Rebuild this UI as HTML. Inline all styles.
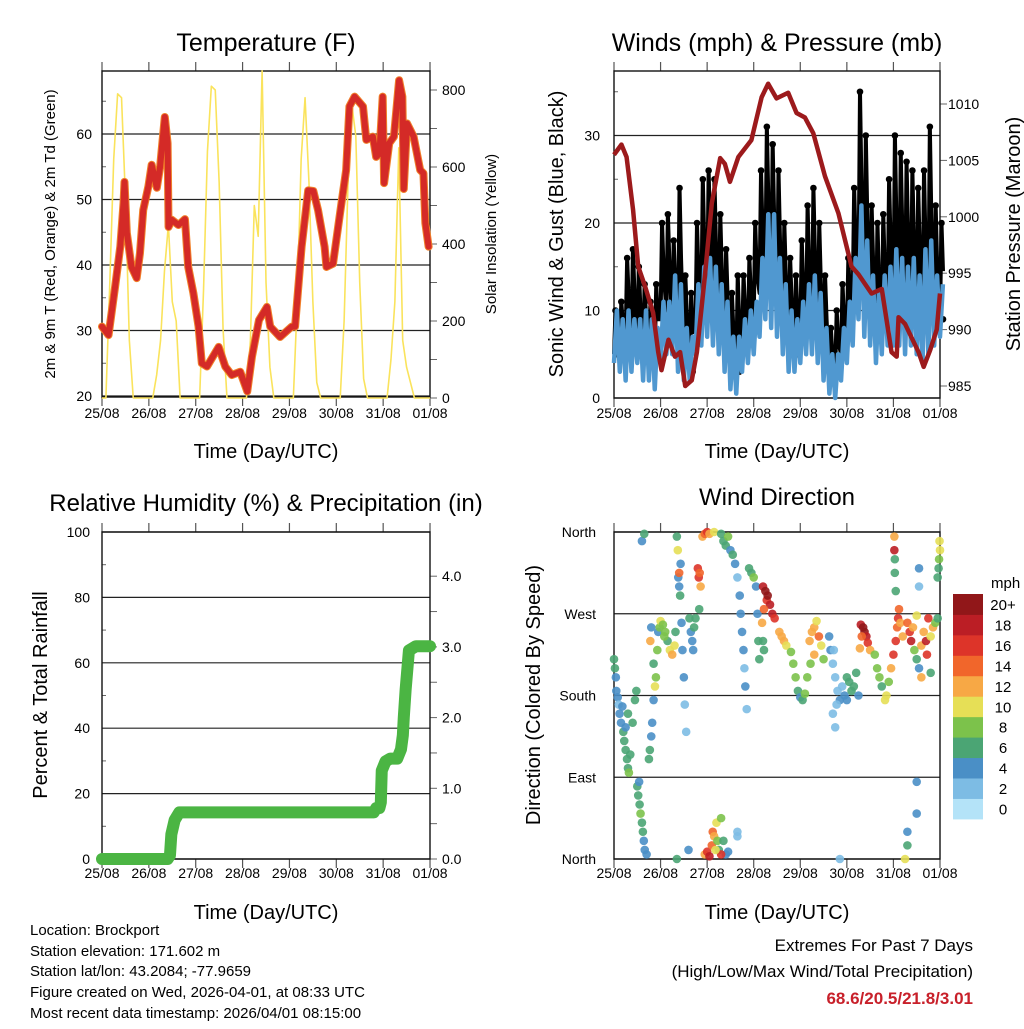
<!DOCTYPE html>
<html><head><meta charset="utf-8"><style>
body{margin:0;background:#fff}
svg text{font-family:"Liberation Sans",sans-serif;fill:#000}
</style></head><body>
<svg id="s" width="1024" height="1024" viewBox="0 0 1024 1024" xmlns="http://www.w3.org/2000/svg">
<g id="static">
<text x="266" y="51" font-size="25" text-anchor="middle">Temperature (F)</text>
<text x="777" y="51" font-size="25" text-anchor="middle">Winds (mph) &amp; Pressure (mb)</text>
<text x="266" y="511" font-size="24" text-anchor="middle">Relative Humidity (%) &amp; Precipitation (in)</text>
<text x="777" y="505" font-size="24" text-anchor="middle">Wind Direction</text>
<text x="266" y="458" font-size="20" text-anchor="middle">Time (Day/UTC)</text>
<text x="777" y="458" font-size="20" text-anchor="middle">Time (Day/UTC)</text>
<text x="266" y="919" font-size="20" text-anchor="middle">Time (Day/UTC)</text>
<text x="777" y="919" font-size="20" text-anchor="middle">Time (Day/UTC)</text>
<text transform="translate(55,234) rotate(-90)" font-size="15" text-anchor="middle">2m &amp; 9m T (Red, Orange) &amp; 2m Td (Green)</text>
<text transform="translate(496,234) rotate(-90)" font-size="15" text-anchor="middle">Solar Insolation (Yellow)</text>
<text transform="translate(563,234) rotate(-90)" font-size="20" text-anchor="middle">Sonic Wind &amp; Gust (Blue, Black)</text>
<text transform="translate(1020,234) rotate(-90)" font-size="20" text-anchor="middle">Station Pressure (Maroon)</text>
<text transform="translate(47,695) rotate(-90)" font-size="20" text-anchor="middle">Percent &amp; Total Rainfall</text>
<text transform="translate(540,695) rotate(-90)" font-size="20" text-anchor="middle">Direction (Colored By Speed)</text>
<text x="991" y="588" font-size="15">mph</text>
<g font-size="15">
<text x="30" y="935">Location: Brockport</text>
<text x="30" y="956">Station elevation: 171.602 m</text>
<text x="30" y="976">Station lat/lon: 43.2084; -77.9659</text>
<text x="30" y="997">Figure created on Wed, 2026-04-01, at 08:33 UTC</text>
<text x="30" y="1018">Most recent data timestamp: 2026/04/01 08:15:00</text>
</g>
<g font-size="17" text-anchor="end">
<text x="973" y="951">Extremes For Past 7 Days</text>
<text x="973" y="977">(High/Low/Max Wind/Total Precipitation)</text>
<text x="973" y="1004" font-weight="bold" style="fill:#c8202a">68.6/20.5/21.8/3.01</text>
</g>
</g>
</svg>
<script>
// ---------- data ----------
const dayLabels=["25/08","26/08","27/08","28/08","29/08","30/08","31/08","01/08"];
const tempDay=[0,0.14,0.28,0.39,0.46,0.48,0.53,0.63,0.74,0.81,0.88,0.99,1.06,1.17,1.24,1.34,1.40,1.42,1.49,1.63,1.77,1.84,1.95,2.06,2.13,2.24,2.49,2.63,2.77,2.95,3.10,3.20,3.35,3.52,3.59,3.80,4.05,4.12,4.26,4.40,4.51,4.61,4.75,4.79,4.93,5.07,5.21,5.28,5.39,5.57,5.64,5.78,5.85,5.92,5.99,6.02,6.13,6.23,6.34,6.41,6.44,6.51,6.65,6.79,6.86,6.90,6.97];
const tempVal=[30.6,29.3,36.7,42.8,49.5,52.7,44.9,39.7,38.0,41.8,48.4,52,55.3,51.8,55,62.6,58.6,45.8,46.9,46.1,47,39.7,35.7,30.6,25,24.5,27.5,24.5,23.2,23.7,20.7,26,31.6,33.6,30.6,29,30.6,30.6,42.8,51.4,51.3,48.4,42.8,39.7,40.2,47.4,54.5,64.2,65.7,64.2,59.1,59.6,56.5,57,65.7,52.5,58.6,59.6,68.2,65.7,51.6,61.6,59.6,54.5,54,46.4,42.8];
const solarVal=[0,0,300,620,790,780,520,150,0,0,0,0, 0,0,60,150,330,450,250,200,0,0,0,0, 0,0,280,640,810,800,560,180,0,0,0,0, 0,0,150,500,420,850,300,80,0,0,0,0, 0,0,250,620,780,560,250,40,0,0,0,0, 0,0,200,560,760,680,300,50,0,0,0,0, 0,0,100,250,650,150,80,40,0,0,0,0, 0];
const presDay=[0,0.16,0.27,0.41,0.52,0.67,0.84,0.95,1.02,1.17,1.31,1.42,1.53,1.67,1.78,1.95,2.10,2.28,2.38,2.49,2.67,2.95,3.17,3.31,3.49,3.74,3.92,4.10,4.28,4.53,4.82,5.10,5.25,5.53,5.75,5.96,6.07,6.11,6.25,6.54,6.65,6.79,6.93,7.0];
const presVal=[1005.5,1006.4,1005.3,1000.6,995.6,993.8,991.5,988,986.4,989.1,987.6,988,985,985.5,988,994.7,1001.2,1005.2,1004.7,1003.1,1005.3,1006.8,1010.6,1011.8,1010.5,1011,1009.2,1008.8,1007.4,1003.6,1000.3,995.6,994.9,993.2,993.6,988,987.6,991.1,990.5,988,986.7,988.2,990,993.2];
const gustHi=[10,11,16,17,15,13,11,13, 20,21,18,24,14,12,20,25, 26,25,21,17,12,14,14,16, 20,26,31,29,26,20,16,14, 18,22,24,20,14,8,10,13, 16,24,35,30,22,20,21,25, 30,28,27,26,24,26,31,22,20];
const gustLo=[5,6,7,7,6,5,4,5, 9,10,8,8,5,3,8,10, 11,10,8,6,3,3,6,7, 9,12,14,12,10,8,6,5, 7,8,9,7,4,2,3,5, 7,11,13,11,9,7,8,10, 10,11,10,10,10,9,10,8,9];
const windHi=[10,9,10,9,9,10,9,8, 11,11,14,13,8,7,13,15, 16,15,13,11,7,7,9,10, 11,16,21,21,16,13,10,9, 11,13,14,12,8,5,5,8, 11,16,22,18,14,12,14,15, 17,16,15,16,14,17,18,14,13];
const windLo=[4,3,2,3,4,2,2,1, 4,5,5,3,2,2,5,6, 7,6,5,3,1,0.5,3,4, 5,7,9,8,7,5,3,3, 4,5,5,4,2,0.5,0,2, 4,6,9,7,6,4,5,6, 6,6,5,6,5,4,5,6,7];
const precipDay=[0,1.40,1.45,1.48,1.55,1.65,5.80,5.85,5.92,5.95,5.97,6.05,6.15,6.30,6.38,6.42,6.44,6.48,6.55,6.70,7.0];
const precipVal=[0,0,0.05,0.35,0.55,0.66,0.66,0.72,0.72,0.80,1.25,1.38,1.42,1.42,1.55,1.75,2.0,2.4,2.95,3.01,3.01];
const dirDay=[0,0.02,0.04,0.05,0.08,0.1,0.12,0.15,0.18,0.2,0.22,0.25,0.28,0.3,0.32,0.35,0.4,0.45,0.48,0.3,0.25,
0.5,0.52,0.55,0.57,0.6,0.62,0.64,0.66,0.7,0.54,
0.75,0.77,0.8,0.82,0.85,0.88,0.9,0.93,0.95,0.8,0.78,0.85,
0.98,1.0,1.05,1.1,1.15,1.2,1.25,1.3,1.32,1.08,
1.35,1.37,1.38,1.4,1.42,1.45,1.47,1.5,1.52,1.55,1.4,1.43,
1.8,1.82,1.84,1.86,1.83,1.62,1.65,1.68,1.7,1.72,1.75,
1.9,1.95,2.0,2.05,2.15,
1.95,2.0,2.05,2.1,2.12,2.15,2.2,2.22,2.25,2.3,2.35,2.4,2.45,2.3,2.18,
2.3,2.35,2.4,2.45,2.5,2.55,2.6,2.65,
2.7,2.72,2.75,2.78,2.8,2.82,2.85,2.9,2.95,3.0,3.05,3.08,3.1,3.12,
3.2,3.25,3.28,3.3,3.35,3.4,3.45,3.22,3.18,3.2,3.22,
3.55,3.6,3.65,3.7,
3.8,3.85,3.9,3.95,4.0,4.05,4.1,4.15,
4.2,4.25,4.3,4.35,4.4,4.45,4.5,4.3,4.22,
4.62,4.65,4.7,4.75,4.8,4.85,4.7,4.75,4.9,4.95,5.0,4.78,4.72,
5.0,5.05,5.1,5.15,5.2,5.25,
5.3,5.35,5.38,5.42,5.45,5.32,5.5,5.28,
5.6,5.65,5.7,5.75,5.82,5.85,5.9,
5.95,6.0,6.05,6.08,6.1,6.12,6.15,6.2,6.02,6.02,6.03,6.05,6.03,
6.3,6.35,6.38,6.42,6.45,6.5,6.55,6.6,6.65,6.7,6.72,6.75,6.8,6.85,6.9,6.95,6.5,6.6,6.8,
6.98,7.0,6.97,6.99,6.95,
6.5,6.5,6.3,6.3,6.25,6.55,6.55,0.6,0.65,1.6,1.35,2.65,2.65,4.85];
const dirDeg=[220,210,200,185,178,170,160,150,168,140,130,120,110,100,95,115,150,175,185,160,145,
80,70,60,50,40,30,20,10,5,85,
110,120,135,150,175,190,200,230,250,255,240,215,
255,262,258,250,240,230,225,235,250,245,
355,340,310,300,290,260,230,200,170,140,315,325,
320,310,315,300,275,265,250,240,230,255,265,
355,358,360,358,360,
5,8,3,15,30,25,40,20,10,45,20,5,8,5,10,
358,350,345,355,340,335,325,310,
290,270,250,230,210,190,165,320,315,310,300,270,240,220,
300,295,285,290,280,270,265,275,260,240,230,
250,245,240,235,
228,215,200,185,178,175,182,200,
240,250,255,262,245,235,220,225,215,
245,230,215,200,185,175,160,145,190,180,175,170,230,
200,195,185,190,205,180,
258,255,250,245,238,245,230,232,
225,210,200,190,175,180,195,
210,225,240,255,265,275,260,245,340,355,315,295,330,
260,250,240,255,230,220,210,235,250,240,225,265,245,255,260,265,268,200,205,
330,340,320,350,310,
85,50,30,15,0,320,300,350,358,10,0,25,30,0];
const dirSpd=[6,6,4,4,4,3,4,5,4,6,6,6,7,7,8,6,6,7,6,6,5,
6,6,7,9,6,7,5,4,4,4,
6,6,5,4,4,10,9,8,4,4,12,6,
9,10,9,8,7,10,13,10,6,9,
6,10,5,4,6,4,4,4,3,3,15,4,
16,16,14,12,6,6,5,4,4,6,6,
12,14,16,12,10,
12,16,18,14,14,12,10,8,6,8,6,4,4,16,10,
6,7,6,8,4,6,4,2,
4,4,4,4,3,4,3,6,6,8,4,4,6,6,
18,20,16,20,18,18,16,14,12,6,6,
12,13,12,10,
8,8,8,6,4,6,8,8,
12,13,12,10,14,10,8,12,8,
4,4,2,2,2,4,2,2,2,4,4,3,2,
6,6,6,6,6,4,
18,20,20,18,16,14,12,12,
8,8,8,6,10,10,8,
12,16,16,14,16,14,12,12,18,12,6,6,6,
14,16,18,12,8,6,4,12,12,18,16,16,10,12,8,6,10,12,6,
8,10,6,10,6,
4,4,4,6,10,4,2,4,6,4,6,2,2,2];
const speedColors=["#b4e3f8","#7dbce4","#4a8fc6","#4ba574","#7cc24b","#e6df56","#f7a845","#f1662b","#dd3429","#bb1e25","#911719"];
const speedLabels=["0","2","4","6","8","10","12","14","16","18","20+"];

// ---------- helpers ----------
const NS="http://www.w3.org/2000/svg";
const svg=document.getElementById('s');
function mk(tag,attrs,parent){const e=document.createElementNS(NS,tag);for(const k in attrs)e.setAttribute(k,attrs[k]);(parent||svg).appendChild(e);return e;}
function txt(x,y,s,size,anchor,parent){const t=mk('text',{x:x,y:y,'font-size':size,'text-anchor':anchor},parent);t.textContent=s;return t;}

const xA=d=>102+d*46.86, xB=d=>614+d*46.57;
const yT=v=>396-(v-20)*6.55, yS=v=>398-v*0.385;
const yW=v=>398-v*8.75, yP=p=>386-(p-985)*11.28;
const yR=v=>859-v*3.27, yPr=v=>859-v*70.7;
const yD=d=>859-d*0.9083;

function frame(x0,x1,y0,y1,name,xf,ty){
  const g=mk('g',{});
  
  
  for(let i=0;i<8;i++){
    const x=xf(i);
    mk('line',{x1:x,x2:x,y1:y0-9,y2:y0,stroke:'#555','stroke-width':1.2},g);
    mk('line',{x1:x,x2:x,y1:y1,y2:y1+9,stroke:'#555','stroke-width':1.2},g);
    const t=txt(x,ty,dayLabels[i],14,'middle',g);
    
    
  }
  return g;
}
function hgrid(g,x0,x1,ys,labels,lx,anchor,name){
  ys.forEach((y,i)=>{
    if(name){const l=mk('line',{x1:x0,x2:x1,y1:y,y2:y,stroke:'#222','stroke-width':1.2},g);
      
      }
    const t=txt(lx,y+5,labels[i],14,anchor,g);
    
    
  });
}
function ticks(g,x,ys,len){ys.forEach(y=>mk('line',{x1:x,x2:x+len,y1:y,y2:y,stroke:'#666','stroke-width':1},g));}
function box(g,x0,x1,y0,y1){mk('rect',{x:x0,y:y0,width:x1-x0,height:y1-y0,fill:'none',stroke:'#111','stroke-width':1.4},g);}

// Panel 1 temperature
const g1=frame(102,430,71,397,'temperature-panel',xA,418);
const tT=[20,30,40,50,60];
hgrid(g1,102,430,tT.map(yT),tT.map(String),92,'end',true);
const sT=[0,200,400,600,800];
hgrid(g1,102,430,sT.map(yS),sT.map(String),442,'start',false);
ticks(g1,430,[0,100,200,300,400,500,600,700,800].map(yS),7);
ticks(g1,102,[25,35,45,55,65].map(yT),4);
let ps=solarVal.map((v,i)=>xA(i/12)+','+yS(v)).join(' ');
const solarLine=mk('polyline',{points:ps,fill:'none',stroke:'#fae35c','stroke-width':1.6,'stroke-linejoin':'round'});


let pt=tempDay.map((d,i)=>xA(d)+','+yT(tempVal[i])).join(' ');
const tOr=mk('polyline',{points:pt,fill:'none',stroke:'#f0802a','stroke-width':8,'stroke-linejoin':'round','stroke-linecap':'round'});


const tRed=mk('polyline',{points:pt,fill:'none',stroke:'#d42a27','stroke-width':6,'stroke-linejoin':'round','stroke-linecap':'round'});


box(g1,102,430,71,397);

// Panel 2 winds
const g2=frame(614,940,71,398,'winds-panel',xB,418);
const wT=[0,10,20,30];
hgrid(g2,614,940,wT.map(yW),wT.map(String),600,'end',true);
const pT=[985,990,995,1000,1005,1010];
hgrid(g2,614,940,pT.map(yP),pT.map(String),948,'start',false);
ticks(g2,940,pT.map(yP),7);
ticks(g2,614,[5,15,25,35].map(yW),4);
// gust: zigzag between low/high with dots
let gz=[];
gustHi.forEach((h,i)=>{
  const x0=xB(i/8);
  gz.push(x0+','+yW(gustLo[i]));
  gz.push((x0+1.5)+','+yW(h));
  gz.push((x0+3)+','+yW(gustLo[i]*0.5+h*0.5));
  const c=mk('circle',{cx:x0+1.5,cy:yW(h),r:3.3,fill:'#000'});
  
  
  const c2=mk('circle',{cx:x0+3,cy:yW(gustLo[i]),r:3.3,fill:'#000'});
  
  
});
const gl=mk('polyline',{points:gz.join(' '),fill:'none',stroke:'#000','stroke-width':4,'stroke-linejoin':'round'});


// wind: zigzag between low/high
let wz=[];
windHi.forEach((h,i)=>{
  const x0=xB(i/8);
  wz.push(x0+','+yW(windLo[i]));
  wz.push((x0+2.9)+','+yW(h));
});
const wl=mk('polyline',{points:wz.join(' '),fill:'none',stroke:'#5098d0','stroke-width':4.5,'stroke-linejoin':'round'});


let pp=presDay.map((d,i)=>xB(d)+','+yP(presVal[i])).join(' ');
const pl=mk('polyline',{points:pp,fill:'none',stroke:'#9c1a1c','stroke-width':4.5,'stroke-linejoin':'round'});


box(g2,614,940,71,398);

// Panel 3 RH/precip
const g3=frame(102,430,532,859,'humidity-panel',xA,878);
const rT=[0,20,40,60,80,100];
hgrid(g3,102,430,rT.map(yR),rT.map(String),90,'end',true);
const prT=[0,1,2,3,4];
hgrid(g3,102,430,prT.map(yPr),prT.map(v=>v.toFixed(1)),442,'start',false);
ticks(g3,430,[0,.5,1,1.5,2,2.5,3,3.5,4].map(yPr),7);
ticks(g3,102,[10,30,50,70,90].map(yR),4);
let pr=precipDay.map((d,i)=>xA(d)+','+yPr(precipVal[i])).join(' ');
const prl=mk('polyline',{points:pr,fill:'none',stroke:'#4bb543','stroke-width':12,'stroke-linejoin':'round','stroke-linecap':'round'});


box(g3,102,430,532,859);

// Panel 4 wind direction
const g4=frame(614,940,532,859,'direction-panel',xB,878);
const dT=[0,90,180,270,360];
hgrid(g4,614,940,dT.map(yD),["North","East","South","West","North"],596,'end',true);
dirDay.forEach((d,i)=>{
  const bin=Math.min(10,Math.max(0,Math.floor(dirSpd[i]/2)));
  const c=mk('circle',{cx:xB(d),cy:yD(dirDeg[i]),r:4.3,fill:speedColors[bin],'fill-opacity':0.9});
  
  
});
box(g4,614,940,532,859);

// colorbar
const cb=mk('g',{});


speedColors.forEach((c,i)=>{
  const y=594+(10-i)*20.45;
  const r=mk('rect',{x:953,y:y,width:30,height:20.9,fill:c},cb);
  
  
  const t=txt(1003,y+16,speedLabels[i],15,'middle',cb);
  
  
});
</script>
</body></html>
